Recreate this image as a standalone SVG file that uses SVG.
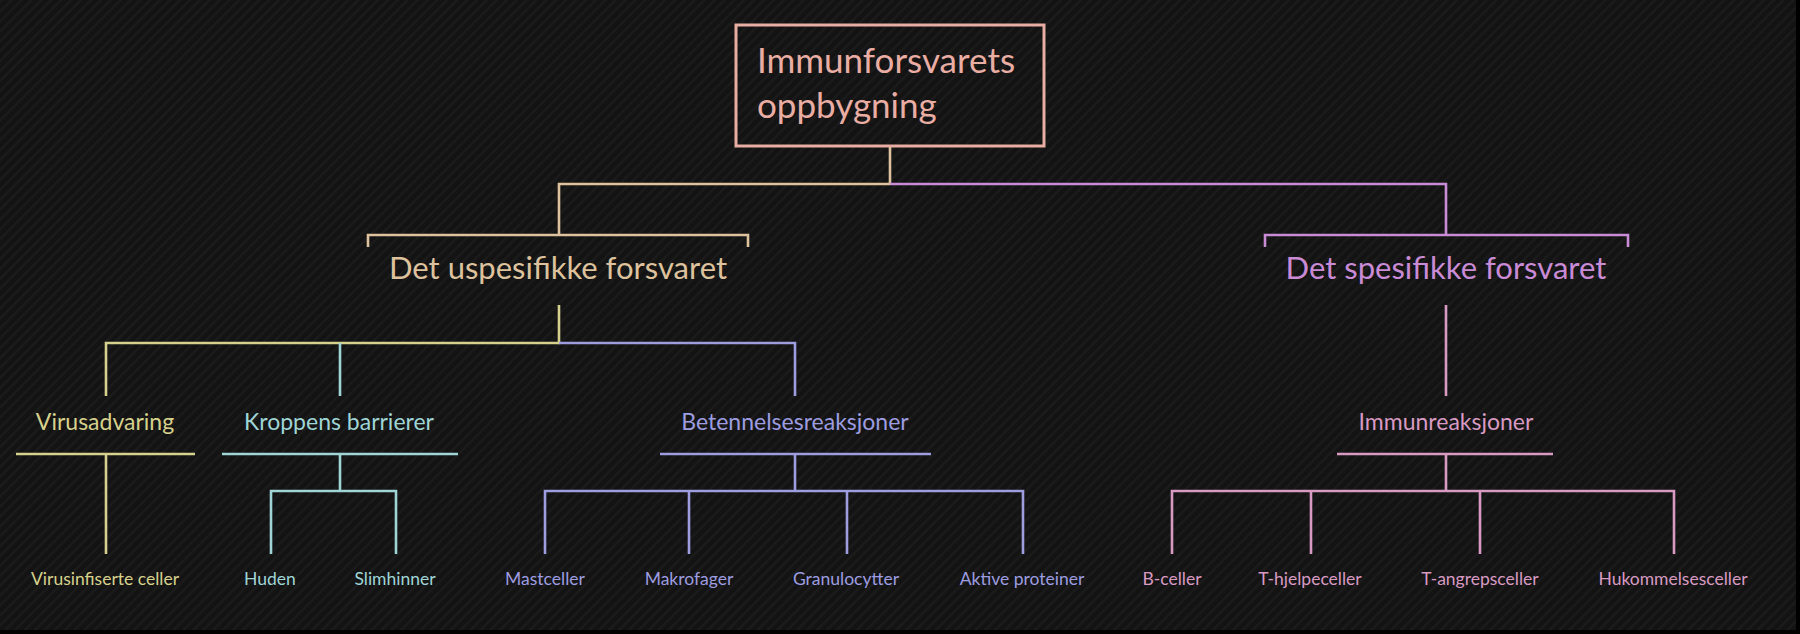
<svg xmlns="http://www.w3.org/2000/svg" width="1800" height="634" viewBox="0 0 1800 634">
<defs>
<pattern id="stripes" width="7" height="7" patternUnits="userSpaceOnUse" patternTransform="rotate(45)">
<rect width="7" height="7" fill="#131313"/>
<rect width="2.5" height="7" fill="#1b1b1b"/>
</pattern>
<style>
text{font-family:Lato,"Noto Sans","Liberation Sans",sans-serif;}
path.l{fill:none;stroke-width:2.6;stroke-linecap:butt;stroke-linejoin:miter;}
.root{fill:#e9ada3;font-size:35px;}
.t1{font-size:31px;text-anchor:middle;}
.t2{font-size:23px;text-anchor:middle;}
.t3{font-size:17.5px;text-anchor:middle;}
path.tan{stroke:#ddc29d;} text.tan{fill:#ddc29d;}
path.mag{stroke:#c98bd6;} text.mag{fill:#c98bd6;}
path.yel{stroke:#d6d18c;} text.yel{fill:#d6d18c;}
path.cya{stroke:#9fd5d6;} text.cya{fill:#9fd5d6;}
path.lav{stroke:#9d9de0;} text.lav{fill:#9d9de0;}
path.pnk{stroke:#d89ac2;} text.pnk{fill:#d89ac2;}
</style>
</defs>
<rect width="1800" height="634" fill="url(#stripes)"/>
<rect x="0" y="630" width="1800" height="4" fill="#000"/>
<rect x="1796" y="0" width="4" height="634" fill="#000"/>

<g id="connectors">
<path class="l tan" d="M890 146 V184 M890 184 H559 V235 M368 247 V235 H748 V247"/>
<path class="l mag" d="M890 184 H1446 V235 M1265 247 V235 H1628 V247"/>
<path class="l yel" d="M559 305 V343 H106 V396 M16 454 H195 M106 454 V554"/>
<path class="l lav" d="M559 343 H795 V396"/>
<path class="l cya" d="M340 343 V396 M222 454 H458 M340 454 V491 M271 554 V491 H396 V554"/>
<path class="l lav" d="M660 454 H931 M795 454 V491 M545 554 V491 H1023 V554 M689 491 V554 M847 491 V554"/>
<path class="l pnk" d="M1446 305 V396 M1337 454 H1553 M1446 454 V491 M1172 554 V491 H1674 V554 M1311 491 V554 M1480 491 V554"/>
</g>

<g id="root">
<rect x="736" y="25" width="308" height="121" fill="none" stroke="#e9ada3" stroke-width="3"/>
<text class="root" x="757" y="73">Immunforsvarets</text>
<text class="root" x="757" y="118">oppbygning</text>
</g>
<g id="uspesifikke"><text class="t1 tan" x="558" y="279">Det uspesifikke forsvaret</text></g>
<g id="spesifikke"><text class="t1 mag" x="1446" y="279">Det spesifikke forsvaret</text></g>
<g id="virusadvaring"><text class="t2 yel" x="105" y="430">Virusadvaring</text></g>
<g id="kroppens"><text class="t2 cya" x="339" y="430">Kroppens barrierer</text></g>
<g id="betennelses"><text class="t2 lav" x="795" y="430">Betennelsesreaksjoner</text></g>
<g id="immunreaksjoner"><text class="t2 pnk" x="1446" y="430">Immunreaksjoner</text></g>
<g id="virusinfiserte"><text class="t3 yel" x="105" y="585">Virusinfiserte celler</text></g>
<g id="huden"><text class="t3 cya" x="270" y="585">Huden</text></g>
<g id="slimhinner"><text class="t3 cya" x="395" y="585">Slimhinner</text></g>
<g id="mastceller"><text class="t3 lav" x="545" y="585">Mastceller</text></g>
<g id="makrofager"><text class="t3 lav" x="689" y="585">Makrofager</text></g>
<g id="granulocytter"><text class="t3 lav" x="846" y="585">Granulocytter</text></g>
<g id="aktive"><text class="t3 lav" x="1022" y="585">Aktive proteiner</text></g>
<g id="bceller"><text class="t3 pnk" x="1172" y="585">B-celler</text></g>
<g id="thjelpe"><text class="t3 pnk" x="1310" y="585">T-hjelpeceller</text></g>
<g id="tangreps"><text class="t3 pnk" x="1480" y="585">T-angrepsceller</text></g>
<g id="hukommelses"><text class="t3 pnk" x="1673" y="585">Hukommelsesceller</text></g>
</svg>
